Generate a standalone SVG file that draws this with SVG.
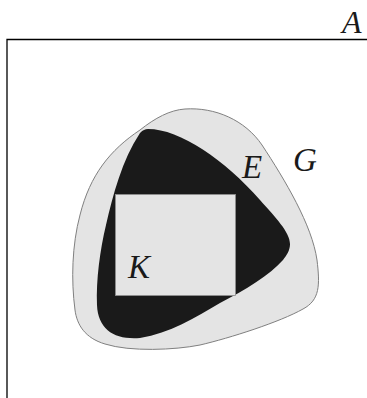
<svg xmlns="http://www.w3.org/2000/svg" width="367" height="398" viewBox="0 0 367 398">
<style>
.lbl{font-family:"Liberation Serif","DejaVu Serif",serif;font-style:italic;fill:#1a1a1a}
.light{fill:#e4e4e4}
</style>
<rect width="367" height="398" fill="#ffffff"/>
<g id="A">
<path d="M7,398 V39.5 H367" fill="none" stroke="#000" stroke-width="1.3"/>
<text class="lbl" x="342" y="33" font-size="32">A</text>
</g>
<g id="G">
<path class="light" stroke="#808080" stroke-width="1" d="M185,109 C215,107 245,120 262,145 C285,180 312,225 317,260 C320,285 320,300 303,309 C280,322 230,338 200,345 C175,350 130,352 105,344 C85,338 77,325 75,310 C71,280 72,245 80,215 C90,175 110,150 140,130 C155,118 170,110 185,109 Z"/>
<text class="lbl" x="293" y="171" font-size="33">G</text>
</g>
<g id="E">
<path fill="#1a1a1a" d="M148,129 C180,129 225,160 260,200 C275,217 290,232 290,244 C290,250 287,255 283,260 C270,275 245,290 220,303 C195,318 170,333 140,338 C115,340 98,330 97,305 C96,280 100,250 106,225 C113,195 122,160 140,133 C143,130 145,129 148,129 Z"/>
<text class="lbl" x="242" y="178" font-size="33">E</text>
</g>
<g id="K">
<rect class="light" x="115.5" y="194.5" width="120" height="101" stroke="#909090" stroke-width="0.8"/>
<text class="lbl" x="128" y="278" font-size="33">K</text>
</g>
</svg>
